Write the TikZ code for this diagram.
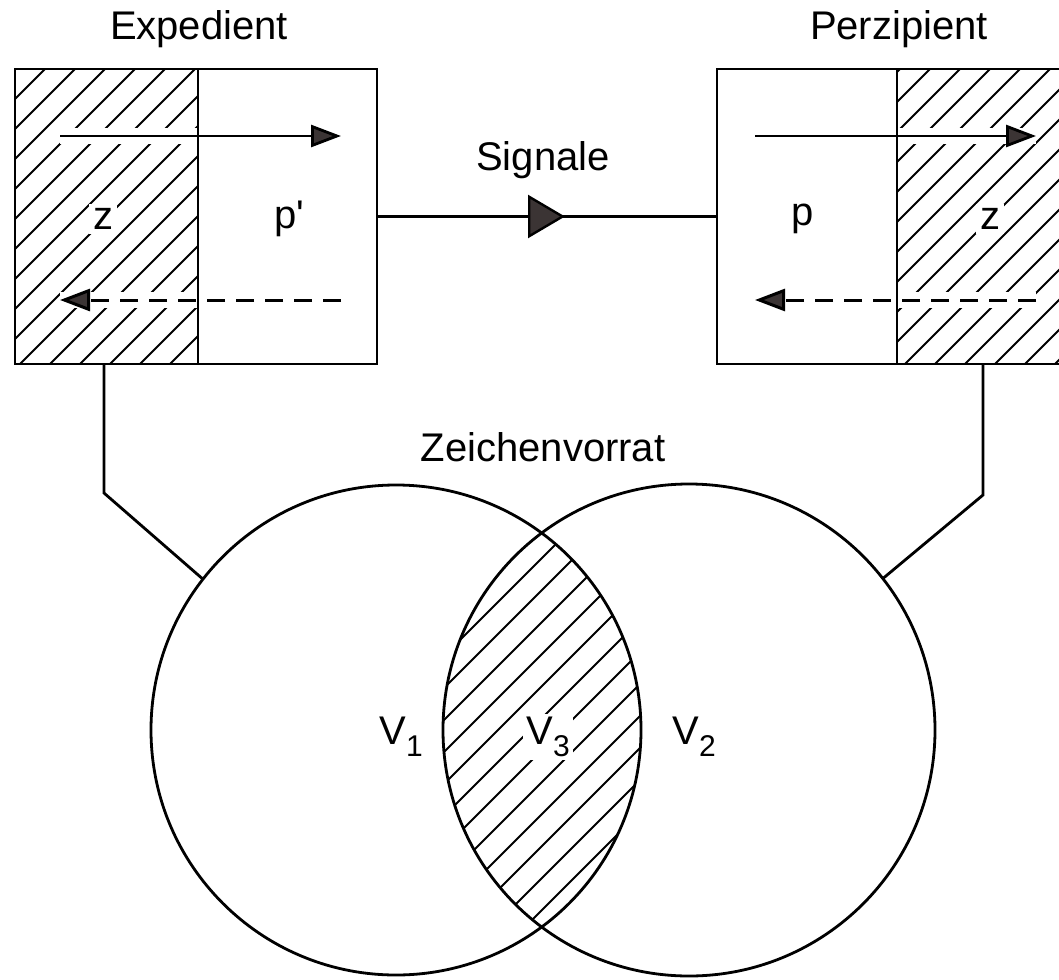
\documentclass[tikz,border=0pt]{standalone}
\usepackage{fontspec}
\setmainfont{Liberation Sans}
\newfontfamily\lsans{Liberation Sans}
\usetikzlibrary{arrows.meta,decorations.markings}
\definecolor{tipgray}{HTML}{3B3434}
\begin{document}
\begin{tikzpicture}[x=1pt,y=-1pt,
  lbl/.style={font=\lsans\fontsize{40}{48}\selectfont, inner sep=2pt},
  frame/.style={draw=black, line width=2.8pt},
  hatch/.style={line width=1.8pt},
  gap/.style={white, line width=16pt},
  tipA/.style={-{Triangle[length=30pt,width=22pt,fill=tipgray]}, line width=2.8pt},
  dashA/.style={tipA, line width=3pt, dash pattern=on 18pt off 11pt},
  box/.style={minimum height=295pt, inner sep=0pt, outer sep=0pt}]
\useasboundingbox (0,0) rectangle (1059,979);
\fill[white] (0,0) rectangle (1059,979);

% box nodes (positions)
\node[box, minimum width=183pt] (ez) at (106.5,216.5) {};
\node[box, minimum width=179pt] (ep) at (287.5,216.5) {};
\node[box, minimum width=180pt] (pp) at (807,216.5) {};
\node[box, minimum width=183pt] (pz) at (988.5,216.5) {};

% hatching of the boxes
\begin{scope}
  \clip (ez.south west) rectangle (ez.north east);
  \foreach \i in {-250,-220,...,200} \draw[hatch] (\i,364) -- ++(300,-300);
\end{scope}
\begin{scope}
  \clip (pz.south west) rectangle (pz.north east);
  \foreach \i in {605,635,...,1085} \draw[hatch] (\i,364) -- ++(300,-300);
\end{scope}

% hatching of the lens
\begin{scope}
  \clip (396,730) circle[radius=245pt];
  \clip (689,730) circle[radius=246pt];
  \foreach \i in {0,32,...,680} \draw[hatch] (\i,940) -- ++(420,-420);
\end{scope}

% arrows inside the boxes
\coordinate (la1) at (60,136);  \coordinate (la2) at (341,136);
\coordinate (lb1) at (341,300); \coordinate (lb2) at (60,300);
\coordinate (ra1) at (755,136); \coordinate (ra2) at (1036,136);
\coordinate (rb1) at (1036,300); \coordinate (rb2) at (755,300);
\draw[gap] (la1) -- (la2);
\draw[gap] (lb1) -- (lb2);
\draw[gap] (ra1) -- (ra2);
\draw[gap] (rb1) -- (rb2);
\draw[tipA] (la1) -- (la2);
\draw[dashA] (lb1) -- (lb2);
\draw[tipA] (ra1) -- (ra2);
\draw[dashA] (rb1) -- (rb2);

% labels in boxes
\node[lbl, fill=white, inner sep=4pt] (zl) at (103,219) {z};
\node[lbl] (pl) at (289,219) {p'};
\node[lbl] (pr) at (803,219) {p};
\node[lbl, fill=white, inner sep=4pt] (zr) at (990,219) {z};

% box frames
\draw[frame] (ez.south west) rectangle (ep.north east);
\draw[frame] (ez.south east) -- (ez.north east);
\draw[frame] (pp.south west) rectangle (pz.north east);
\draw[frame] (pp.south east) -- (pp.north east);

% titles
\node[lbl] (exp) at (199,29) {Expedient};
\node[lbl] (per) at (899,29) {Perzipient};
\node[lbl] (sig) at (543,160) {Signale};
\node[lbl] (zei) at (543,447) {Zeichenvorrat};

% signal connector
\draw[line width=2.4pt, postaction={decorate}, decoration={markings,
  mark=at position 188pt with {\arrow{Triangle[length=37pt,width=43pt,fill=tipgray]}}}]
  (ep.east) -- (pp.west);

% circles
\node[circle, draw, line width=2.8pt, minimum size=490pt, inner sep=0pt, outer sep=0pt] (C1) at (396,730) {};
\node[circle, draw, line width=2.8pt, minimum size=492pt, inner sep=0pt, outer sep=0pt] (C2) at (689,730) {};

% connectors boxes -> circles
\coordinate (k1) at (104,493);
\coordinate (k2) at (983,495);
\draw[frame] ([xshift=89pt]ez.south west) -- (k1) -- (C1.142);
\draw[frame] ([xshift=86pt]pz.south west) -- (k2) -- (C2.38);

% set labels
\node[lbl] (v1) at (401,737) {V\raisebox{-0.3em}{\fontsize{30}{30}\selectfont 1}};
\node[lbl, fill=white, inner sep=3pt] (v3) at (548,737) {V\raisebox{-0.3em}{\fontsize{30}{30}\selectfont 3}};
\node[lbl] (v2) at (694,737) {V\raisebox{-0.3em}{\fontsize{30}{30}\selectfont 2}};
\end{tikzpicture}
\end{document}
